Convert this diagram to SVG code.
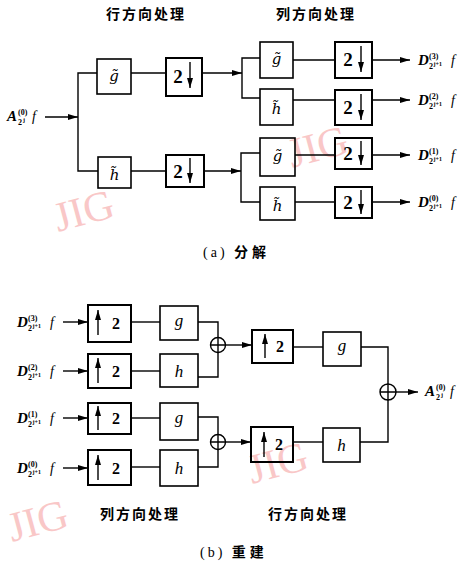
<svg xmlns="http://www.w3.org/2000/svg" width="459" height="562" viewBox="0 0 459 562">
<style>
.box{fill:none;stroke:#000;stroke-width:1.6}
.bx2{fill:none;stroke:#000;stroke-width:2}
.ln{fill:none;stroke:#000;stroke-width:1.4}
.arr{marker-end:url(#ah)}
.t{font-family:"Liberation Serif",serif;fill:#000}
.it{font-style:italic;font-size:17px;text-anchor:middle}
.tg{font-family:"DejaVu Serif","Liberation Serif",serif;font-style:italic;font-size:15px;text-anchor:middle;fill:#000}
.num{font-weight:bold;font-size:19px;text-anchor:middle}
.num2{font-weight:bold;font-size:16px;text-anchor:middle}
.D{font-weight:bold;font-style:italic;font-size:15px}
.sp{font-weight:bold;font-size:8px}
.ss{font-weight:bold;font-size:6px}
.f{font-style:italic;font-size:14px}
.cn{font-family:"Noto Sans CJK SC","Noto Sans CJK JP",sans-serif;font-weight:bold;font-size:14px;letter-spacing:2px;text-anchor:middle;fill:#000}
.cap{font-family:"Liberation Serif","Noto Sans CJK SC",serif;font-size:14px;letter-spacing:3px;fill:#000}
.capc{font-family:"Noto Sans CJK SC",sans-serif;font-weight:bold;font-size:14px;letter-spacing:4px;fill:#000}
.wm{font-family:"Liberation Serif",serif;font-size:42px;fill:#f7b0b0;opacity:0.7}
</style>
<defs>
<marker id="ah" viewBox="0 0 10 6" refX="10" refY="3" markerWidth="10" markerHeight="6" markerUnits="userSpaceOnUse" orient="auto">
<path d="M0,0 L10,3 L0,6 z" fill="#000"/>
</marker>
<marker id="dh" viewBox="0 0 6 10" refX="3" refY="10" markerWidth="6" markerHeight="10" markerUnits="userSpaceOnUse">
<path d="M0,0 L3,10 L6,0 z" fill="#000"/>
</marker>
<marker id="uh" viewBox="0 0 6 10" refX="3" refY="0" markerWidth="6" markerHeight="10" markerUnits="userSpaceOnUse">
<path d="M0,10 L3,0 L6,10 z" fill="#000"/>
</marker>
</defs>

<!-- watermarks -->
<g id="watermarks">
<text class="wm" transform="translate(58,232) rotate(-15)">JIG</text>
<text class="wm" transform="translate(292,168) rotate(-15)">JIG</text>
<text class="wm" transform="translate(12,542) rotate(-15)">JIG</text>
<text class="wm" transform="translate(252,484) rotate(-15)">JIG</text>
</g>

<!-- titles and captions -->
<text class="cn" x="146" y="19">行方向处理</text>
<text class="cn" x="316" y="19">列方向处理</text>
<text class="cap" x="203" y="257">(a) <tspan class="capc">分解</tspan></text>
<text class="cn" x="140" y="519">列方向处理</text>
<text class="cn" x="308" y="519">行方向处理</text>
<text class="cap" x="200" y="557">(b) <tspan class="capc">重建</tspan></text>

<!-- connectors -->
<g id="connectors">
<path class="ln arr" d="M45,117 H78"/>
<path class="ln" d="M97,73 H78 V171 H98"/>
<path class="ln" d="M131,73 H166"/>
<path class="ln" d="M131,171 H166"/>
<path class="ln arr" d="M202,73 H242"/>
<path class="ln" d="M260,58 H242 V98 H260"/>
<path class="ln arr" d="M204,171 H241"/>
<path class="ln" d="M260,153 H241 V202 H260"/>
<path class="ln" d="M293,60 H335"/>
<path class="ln" d="M293,100 H335"/>
<path class="ln" d="M295,155 H335"/>
<path class="ln" d="M295,202 H335"/>
<path class="ln arr" d="M372,60 H410"/>
<path class="ln arr" d="M372,100 H410"/>
<path class="ln arr" d="M372,155 H410"/>
<path class="ln arr" d="M372,202 H410"/>

<path class="ln arr" d="M63,322 H88"/>
<path class="ln arr" d="M63,371 H88"/>
<path class="ln arr" d="M63,418 H88"/>
<path class="ln arr" d="M63,468 H88"/>
<path class="ln" d="M131,322 H160"/>
<path class="ln" d="M131,371 H160"/>
<path class="ln" d="M131,418 H160"/>
<path class="ln" d="M131,467 H160"/>
<path class="ln" d="M198,322 H218 V337.5"/>
<path class="ln" d="M198,377 H218 V352.5"/>
<path class="ln" d="M198,417 H218 V434.5"/>
<path class="ln" d="M198,467 H218 V449.5"/>
<path class="ln arr" d="M225.5,345 H252"/>
<path class="ln arr" d="M225.5,442 H251"/>
<path class="ln" d="M293,347 H323"/>
<path class="ln" d="M293,442 H323"/>
<path class="ln" d="M361,347 H388 V384"/>
<path class="ln" d="M360,442 H388 V400"/>
<path class="ln arr" d="M396,392 H418"/>
</g>

<!-- analysis: row stage -->
<g id="a_g1"><rect class="box" x="97" y="59" width="34" height="35"/><text class="tg" x="114" y="81">g&#x303;</text></g>
<g id="a_d1"><rect class="bx2" x="166" y="58" width="36" height="38"/><text class="t num" x="178" y="83">2</text><path class="ln" d="M190,62 V88" stroke-width="1.8" marker-end="url(#dh)"/></g>
<g id="a_h1"><rect class="box" x="98" y="157" width="33" height="31"/><text class="tg" x="114.5" y="180">h&#x303;</text></g>
<g id="a_d2"><rect class="bx2" x="166" y="155" width="38" height="32"/><text class="t num" x="178" y="178">2</text><path class="ln" d="M190,158 V183" stroke-width="1.8" marker-end="url(#dh)"/></g>

<!-- analysis: column stage -->
<g id="a_g2"><rect class="box" x="260" y="42" width="33" height="36"/><text class="tg" x="276.5" y="64">g&#x303;</text></g>
<g id="a_d3"><rect class="bx2" x="335" y="42" width="37" height="36"/><text class="t num" x="348" y="66">2</text><path class="ln" d="M361,46 V72" stroke-width="1.8" marker-end="url(#dh)"/></g>
<g id="a_h2"><rect class="box" x="260" y="89" width="33" height="36"/><text class="tg" x="276.5" y="114">h&#x303;</text></g>
<g id="a_d4"><rect class="bx2" x="335" y="90" width="37" height="35"/><text class="t num" x="348" y="114">2</text><path class="ln" d="M361,94 V120" stroke-width="1.8" marker-end="url(#dh)"/></g>
<g id="a_g3"><rect class="box" x="260" y="138" width="35" height="38"/><text class="tg" x="277.5" y="161">g&#x303;</text></g>
<g id="a_d5"><rect class="bx2" x="335" y="138" width="37" height="31"/><text class="t num" x="348" y="160">2</text><path class="ln" d="M361,141 V165" stroke-width="1.8" marker-end="url(#dh)"/></g>
<g id="a_h3"><rect class="box" x="260" y="187" width="35" height="33"/><text class="tg" x="277.5" y="211">h&#x303;</text></g>
<g id="a_d6"><rect class="bx2" x="335" y="187" width="37" height="31"/><text class="t num" x="348" y="209">2</text><path class="ln" d="M361,190 V214" stroke-width="1.8" marker-end="url(#dh)"/></g>

<!-- analysis labels -->
<g id="a_in">
<text class="t D" x="7" y="121">A</text><text class="t sp" x="18" y="115">(0)</text><text class="t sp" x="18" y="125">2</text><text class="t ss" x="23" y="122">j</text><text class="t f" x="32" y="121">f</text>
</g>
<g id="a_out3"><text class="t D" x="418" y="65">D</text><text class="t sp" x="429" y="59">(3)</text><text class="t sp" x="429" y="69">2</text><text class="t ss" x="433.5" y="66">j+1</text><text class="t f" x="451" y="65">f</text></g>
<g id="a_out2"><text class="t D" x="418" y="105">D</text><text class="t sp" x="429" y="99">(2)</text><text class="t sp" x="429" y="109">2</text><text class="t ss" x="433.5" y="106">j+1</text><text class="t f" x="451" y="105">f</text></g>
<g id="a_out1"><text class="t D" x="418" y="160">D</text><text class="t sp" x="429" y="154">(1)</text><text class="t sp" x="429" y="164">2</text><text class="t ss" x="433.5" y="161">j+1</text><text class="t f" x="451" y="160">f</text></g>
<g id="a_out0"><text class="t D" x="418" y="207">D</text><text class="t sp" x="429" y="201">(0)</text><text class="t sp" x="429" y="211">2</text><text class="t ss" x="433.5" y="208">j+1</text><text class="t f" x="451" y="207">f</text></g>

<!-- reconstruction: column stage -->
<g id="r_in3"><text class="t D" x="17" y="327">D</text><text class="t sp" x="28" y="321">(3)</text><text class="t sp" x="28" y="331">2</text><text class="t ss" x="32.5" y="328">j+1</text><text class="t f" x="50" y="327">f</text></g>
<g id="r_in2"><text class="t D" x="17" y="376">D</text><text class="t sp" x="28" y="370">(2)</text><text class="t sp" x="28" y="380">2</text><text class="t ss" x="32.5" y="377">j+1</text><text class="t f" x="50" y="376">f</text></g>
<g id="r_in1"><text class="t D" x="17" y="423">D</text><text class="t sp" x="28" y="417">(1)</text><text class="t sp" x="28" y="427">2</text><text class="t ss" x="32.5" y="424">j+1</text><text class="t f" x="50" y="423">f</text></g>
<g id="r_in0"><text class="t D" x="17" y="473">D</text><text class="t sp" x="28" y="467">(0)</text><text class="t sp" x="28" y="477">2</text><text class="t ss" x="32.5" y="474">j+1</text><text class="t f" x="50" y="473">f</text></g>

<g id="r_u1"><rect class="bx2" x="88" y="305" width="43" height="37"/><path class="ln" d="M98,335 V310" stroke-width="1.8" marker-end="url(#uh)"/><text class="t num2" x="116" y="329">2</text></g>
<g id="r_g1"><rect class="box" x="160" y="306" width="38" height="34"/><text class="t it" x="179" y="326">g</text></g>
<g id="r_u2"><rect class="bx2" x="88" y="354" width="43" height="34"/><path class="ln" d="M98,383 V358" stroke-width="1.8" marker-end="url(#uh)"/><text class="t num2" x="116" y="377">2</text></g>
<g id="r_h1"><rect class="box" x="160" y="354" width="38" height="33"/><text class="t it" x="179" y="377">h</text></g>
<g id="r_u3"><rect class="bx2" x="88" y="403" width="43" height="31"/><path class="ln" d="M98,430 V406" stroke-width="1.8" marker-end="url(#uh)"/><text class="t num2" x="116" y="424">2</text></g>
<g id="r_g2"><rect class="box" x="160" y="403" width="38" height="37"/><text class="t it" x="179" y="423">g</text></g>
<g id="r_u4"><rect class="bx2" x="88" y="450" width="43" height="35"/><path class="ln" d="M98,480 V455" stroke-width="1.8" marker-end="url(#uh)"/><text class="t num2" x="116" y="474">2</text></g>
<g id="r_h2"><rect class="box" x="160" y="450" width="38" height="36"/><text class="t it" x="179" y="474">h</text></g>

<g id="r_c1"><circle class="ln" cx="218" cy="345" r="7.5"/><path class="ln" d="M210.5,345 H225.5 M218,337.5 V352.5"/></g>
<g id="r_c2"><circle class="ln" cx="218" cy="442" r="7.5"/><path class="ln" d="M210.5,442 H225.5 M218,434.5 V449.5"/></g>

<!-- reconstruction: row stage -->
<g id="r_u5"><rect class="bx2" x="252" y="330" width="41" height="33"/><path class="ln" d="M265,358 V334" stroke-width="1.8" marker-end="url(#uh)"/><text class="t num2" x="280" y="352">2</text></g>
<g id="r_g3"><rect class="box" x="323" y="332" width="38" height="34"/><text class="t it" x="342" y="351">g</text></g>
<g id="r_u6"><rect class="bx2" x="251" y="427" width="42" height="35"/><path class="ln" d="M264,457 V432" stroke-width="1.8" marker-end="url(#uh)"/><text class="t num2" x="279" y="450">2</text></g>
<g id="r_h3"><rect class="box" x="323" y="428" width="37" height="34"/><text class="t it" x="341.5" y="451">h</text></g>
<g id="r_c3"><circle class="ln" cx="388" cy="392" r="8"/><path class="ln" d="M380,392 H396 M388,384 V400"/></g>
<g id="r_out"><text class="t D" x="425" y="396">A</text><text class="t sp" x="436" y="390">(0)</text><text class="t sp" x="436" y="400">2</text><text class="t ss" x="441" y="397">j</text><text class="t f" x="450" y="396">f</text></g>
</svg>
